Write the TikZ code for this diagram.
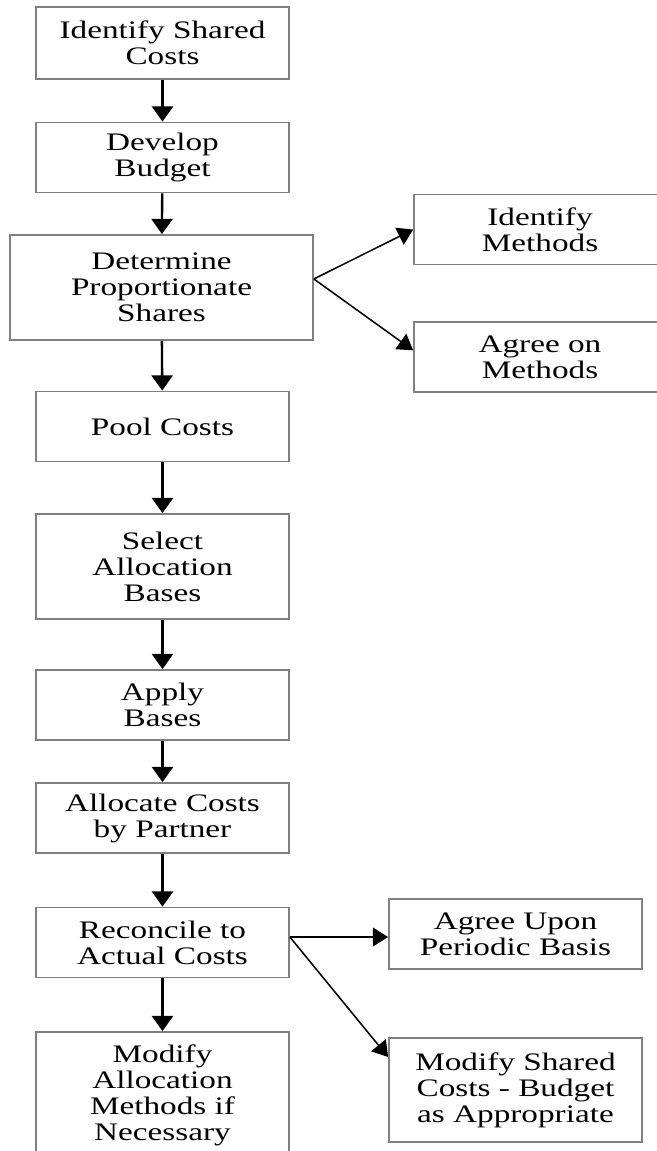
\documentclass[tikz,border=0pt]{standalone}
\usepackage{fontspec}
\setmainfont{Liberation Serif}[FakeStretch=1.32]
\usepackage{tikz}
\usetikzlibrary{arrows.meta}

\begin{document}
\begin{tikzpicture}[
            x=0.03cm, y=-0.03cm,
            box/.style={draw=black!50, line width=1.5pt, fill=white, inner sep=0pt, align=center,
                        minimum width=7.59cm, minimum height=2.1cm,
                        font=\fontsize{21.5pt}{22.2pt}\selectfont},
            tallbox/.style={box, minimum height=3.15cm},
            flow/.style={-{Triangle[width=18pt, length=13pt]}, line width=2pt, black},
            branch/.style={-{Triangle[width=16pt, length=13pt]}, line width=1.3pt, black}
        ]
        % 1. Page frame (the last box runs off the bottom)
        \clip (0,0) rectangle (657,1151);
        \fill[white] (0,0) rectangle (657,1151);

        % 2. X-coordinates of the columns
        \def\xM{162.5}
        \def\xR{540}
        \def\xS{515.5}

        % --- MAIN COLUMN ---
        \node[box, minimum height=2.16cm] (costs) at (\xM, 43) {Identify Shared\\Costs};
        \node[box] (budget) at (\xM, 157.5) {Develop\\Budget};
        \node[tallbox, minimum width=9.09cm] (shares) at (161.5, 287.5) {Determine\\Proportionate\\Shares};
        \node[box] (pool) at (\xM, 426.5) {Pool Costs};
        \node[tallbox] (select) at (\xM, 566.5) {Select\\Allocation\\Bases};
        \node[box] (apply) at (\xM, 705) {Apply\\Bases};
        \node[box] (allocate) at (\xM, 818) {Allocate Costs\\by Partner};
        \node[box] (reconcile) at (\xM, 942.5) {Reconcile to\\Actual Costs};
        \node[box, minimum height=3.78cm] (modify) at (\xM, 1095) {Modify\\Allocation\\Methods if\\Necessary};

        % --- SIDE BOXES ---
        \node[box, minimum width=7.56cm] (identify) at (\xR, 229.5) {Identify\\Methods};
        \node[box, minimum width=7.56cm] (agree) at (\xR, 357) {Agree on\\Methods};
        \node[box] (periodic) at (\xS, 934) {Agree Upon\\Periodic Basis};
        \node[tallbox, minimum height=3.12cm] (modshared) at (\xS, 1090) {Modify Shared\\Costs - Budget\\as Appropriate};

        % Branch points on the right edges
        \coordinate (split1) at ([yshift=0.255cm]shares.east);
        \coordinate (split2) at ([yshift=0.165cm]reconcile.east);

        % Down the main column
        \draw[flow] (costs) -- (budget);
        \draw[flow] (budget) -- (shares);
        \draw[flow] (shares) -- (pool);
        \draw[flow] (pool) -- (select);
        \draw[flow] (select) -- (apply);
        \draw[flow] (apply) -- (allocate);
        \draw[flow] (allocate) -- (reconcile);
        \draw[flow] (reconcile) -- (modify);

        % Branches
        \draw[branch] (split1) -- (identify.west);
        \draw[branch] (split1) -- ([yshift=0.2cm]agree.west);
        \draw[branch] (split2) -- (split2 -| periodic.west);
        \draw[branch] (split2) -- ([yshift=0.99cm]modshared.west);

        \end{tikzpicture}
\end{document}
